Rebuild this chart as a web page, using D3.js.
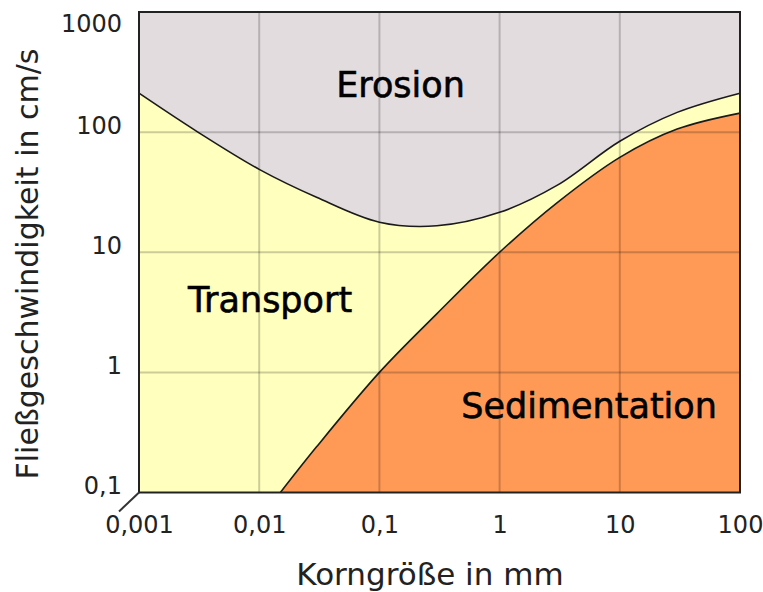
<!DOCTYPE html>
<html>
<head>
<meta charset="utf-8">
<script src="https://cdn.jsdelivr.net/npm/d3@7"></script>
<style>
body{margin:0;background:#fff;}
text{font-family:"DejaVu Sans",sans-serif;}
</style>
</head>
<body>
<svg id="chart"></svg>
<script>
const width=763;
const height=592;

// Hjulström-Diagramm
const erosionSize=[0.001,0.003,0.01,0.03,0.1,0.3,1,3,10,30,100];
const erosionSpeed=[211,102,49,28.7,17.8,16.6,21.5,36,84,146,211];

const sedimentSize=[0.015,0.03,0.1,0.3,1,3,10,30,100];
const sedimentSpeed=[0.1,0.24,1,3.07,10,25.8,61.7,106,144];

const xTicks=[0.001,0.01,0.1,1,10,100];
const xLabels=['0,001','0,01','0,1','1','10','100'];
const yTicks=[0.1,1,10,100,1000];
const yLabels=['0,1','1','10','100','1000'];

const zones=[
  {name:'Erosion',size:0.15,speed:196},
  {name:'Transport',size:0.0123,speed:3.16},
  {name:'Sedimentation',size:5.55,speed:0.414}
];

const plotLeft=139,plotRight=740,plotTop=12,plotBottom=492.5;

const svg=d3.select('#chart')
  .attr('width',width)
  .attr('height',height);

const x=d3.scaleLog().domain([0.001,100]).range([plotLeft,plotRight]);
const y=d3.scaleLog().domain([0.1,1000]).range([plotBottom,plotTop]);

// erosion background
svg.append('rect')
  .attr('x',plotLeft).attr('y',plotTop)
  .attr('width',plotRight-plotLeft).attr('height',plotBottom-plotTop)
  .attr('fill','#e3dcdf');

const curve=d3.curveCatmullRom.alpha(0.5);

const area=d3.area()
  .x(d=>x(d[0]))
  .y0(plotBottom)
  .y1(d=>y(d[1]))
  .curve(curve);

const line=d3.line()
  .x(d=>x(d[0]))
  .y(d=>y(d[1]))
  .curve(curve);

const erosion=d3.zip(erosionSize,erosionSpeed);
const sediment=d3.zip(sedimentSize,sedimentSpeed);

svg.append('path').datum(erosion)
  .attr('d',area).attr('fill','#ffffbe');
svg.append('path').datum(sediment)
  .attr('d',area).attr('fill','#ff9955');

svg.selectAll('.curve')
  .data([erosion,sediment])
  .enter().append('path')
  .attr('class','curve')
  .attr('d',line)
  .attr('fill','none')
  .attr('stroke','#1a1a1a')
  .attr('stroke-width',1.6);

// zone labels
svg.selectAll('.zone')
  .data(zones)
  .enter().append('text')
  .attr('class','zone')
  .attr('x',d=>x(d.size))
  .attr('y',d=>y(d.speed))
  .attr('text-anchor','middle')
  .attr('font-size',35)
  .attr('fill','#000')
  .attr('stroke','#000')
  .attr('stroke-width',0.6)
  .text(d=>d.name);

// grid
const grid=svg.append('g')
  .attr('stroke','#000')
  .attr('stroke-opacity',0.2)
  .attr('stroke-width',2);
grid.selectAll('.gx')
  .data(xTicks.slice(1,-1))
  .enter().append('line')
  .attr('x1',d=>x(d)).attr('x2',d=>x(d))
  .attr('y1',plotTop).attr('y2',plotBottom);
grid.selectAll('.gy')
  .data(yTicks.slice(1,-1))
  .enter().append('line')
  .attr('y1',d=>y(d)).attr('y2',d=>y(d))
  .attr('x1',plotLeft).attr('x2',plotRight);

// frame
svg.append('rect')
  .attr('x',plotLeft).attr('y',plotTop)
  .attr('width',plotRight-plotLeft).attr('height',plotBottom-plotTop)
  .attr('fill','none')
  .attr('stroke','#222')
  .attr('stroke-width',2);

svg.append('line')
  .attr('x1',plotLeft).attr('y1',plotBottom)
  .attr('x2',plotLeft-20).attr('y2',plotBottom+19)
  .attr('stroke','#333')
  .attr('stroke-width',2);

// axes
const xAxis=svg.append('g')
  .attr('transform','translate(0,'+plotBottom+')')
  .call(d3.axisBottom(x).tickValues(xTicks).tickSize(0)
    .tickFormat((d,i)=>xLabels[i]));
xAxis.select('.domain').remove();
xAxis.selectAll('text')
  .attr('y',40).attr('dy',0)
  .attr('font-size',24)
  .attr('font-family','DejaVu Sans')
  .attr('fill','#222');

const yAxis=svg.append('g')
  .attr('transform','translate('+plotLeft+',0)')
  .call(d3.axisLeft(y).tickValues(yTicks).tickSize(0).tickPadding(17)
    .tickFormat((d,i)=>yLabels[i]));
yAxis.select('.domain').remove();
yAxis.selectAll('text')
  .attr('dy',d=>d===1000?'0.83em':'0.04em')
  .attr('font-size',24)
  .attr('font-family','DejaVu Sans')
  .attr('fill','#222');

svg.append('text')
  .attr('x',430).attr('y',585)
  .attr('text-anchor','middle')
  .attr('font-size',31)
  .attr('fill','#222')
  .text('Korngröße in mm');

svg.append('text')
  .attr('transform','translate(38,264) rotate(-90)')
  .attr('text-anchor','middle')
  .attr('font-size',30)
  .attr('fill','#222')
  .text('Fließgeschwindigkeit in cm/s');
</script>
</body>
</html>
